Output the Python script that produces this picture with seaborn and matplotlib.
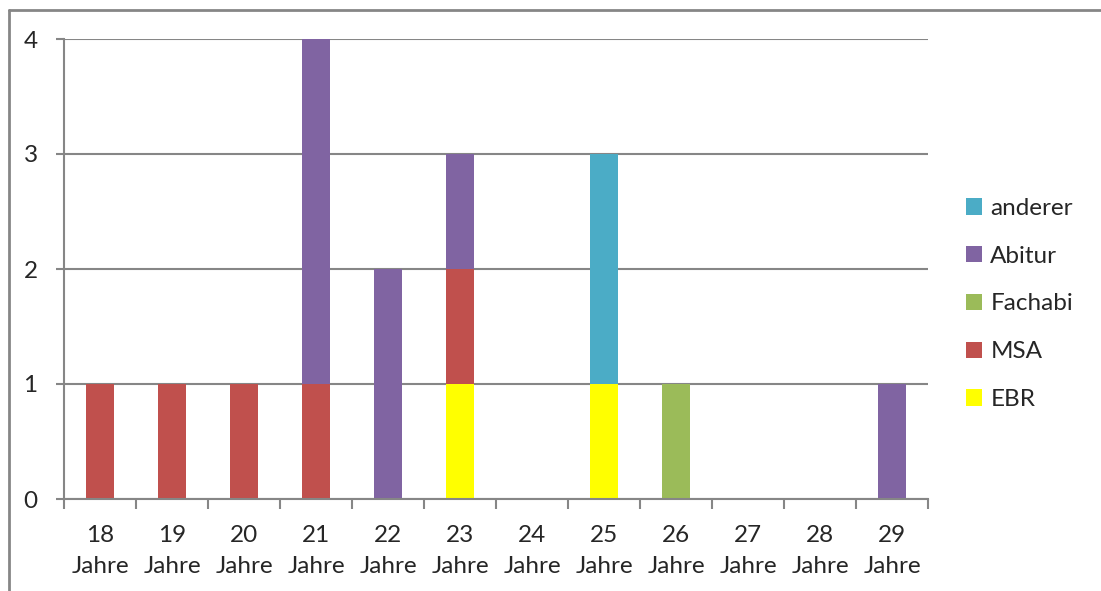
import matplotlib
matplotlib.use("Agg")
import matplotlib.pyplot as plt
from matplotlib.lines import Line2D
from matplotlib.patches import Patch
import numpy as np
import pandas as pd
import seaborn as sns

# Age groups and counts per school-leaving qualification
ages = ["18", "19", "20", "21", "22", "23", "24", "25", "26", "27", "28", "29"]
ebr = [0, 0, 0, 0, 0, 1, 0, 1, 0, 0, 0, 0]
msa = [1, 1, 1, 1, 0, 1, 0, 0, 0, 0, 0, 0]
fachabi = [0, 0, 0, 0, 0, 0, 0, 0, 1, 0, 0, 0]
abitur = [0, 0, 0, 3, 2, 1, 0, 0, 0, 0, 0, 1]
anderer = [0, 0, 0, 0, 0, 0, 0, 2, 0, 0, 0, 0]

series = ["EBR", "MSA", "Fachabi", "Abitur", "anderer"]
values = [ebr, msa, fachabi, abitur, anderer]
colors = {"EBR": "#FFFF00", "MSA": "#C0504D", "Fachabi": "#9BBB59",
          "Abitur": "#8064A2", "anderer": "#4BACC6"}

sns.set_style("white")
plt.rcParams["font.family"] = ["Lato", "DejaVu Sans"]
fs = 17.5

fig = plt.figure(figsize=(11.01, 5.91), dpi=100)
ax = fig.add_axes([64 / 1101, 92 / 591, 864 / 1101, 460 / 591])

labels = [f"{a}\nJahre" for a in ages]
bottom = np.zeros(len(ages))
for name, vals in zip(series, values):
    df = pd.DataFrame({"age": labels, "n": vals})
    sns.barplot(data=df, x="age", y="n", order=labels, color=colors[name],
                bottom=bottom, width=0.4, linewidth=0, saturation=1,
                errorbar=None, ax=ax)
    bottom = bottom + np.array(vals)

grid_col = "#868686"
ax.set_ylim(0, 4)
ax.set_xlim(-0.5, len(ages) - 0.5)
ax.set_yticks([0, 1, 2, 3, 4])
ax.yaxis.grid(True, color=grid_col, linewidth=1.5)
ax.set_axisbelow(True)
ax.set_xlabel("")
ax.set_ylabel("")

for side in ["top", "right"]:
    ax.spines[side].set_visible(False)
for side in ["left", "bottom"]:
    ax.spines[side].set_color(grid_col)
    ax.spines[side].set_linewidth(1.5)

ax.tick_params(axis="y", length=6, width=1.5, color=grid_col, pad=13,
               labelsize=fs, left=True)
ax.tick_params(axis="x", which="major", length=0, pad=19, labelsize=fs)
ax.set_xticks(np.arange(-0.5, len(ages)), minor=True)
ax.tick_params(axis="x", which="minor", length=7, width=1.5, color=grid_col,
               bottom=True)
for t in ax.get_xticklabels():
    t.set_linespacing(1.55)

handles = [Patch(facecolor=colors[s], edgecolor="none") for s in series[::-1]]
fig.legend(handles, series[::-1], loc="center left",
           bbox_to_anchor=(966 / 1101, 1 - 304 / 591), frameon=False,
           borderpad=0, borderaxespad=0,
           fontsize=fs, handlelength=0.65, handleheight=0.65,
           handletextpad=0.35, labelspacing=1.1)

# Outer chart frame
fig.add_artist(Line2D([9 / 1101, 1.0], [1 - 10 / 591, 1 - 10 / 591],
                      transform=fig.transFigure, color=grid_col, linewidth=2))
fig.add_artist(Line2D([9 / 1101, 9 / 1101], [0.0, 1 - 10 / 591],
                      transform=fig.transFigure, color=grid_col, linewidth=2))

fig.savefig("out.png", dpi=100)
